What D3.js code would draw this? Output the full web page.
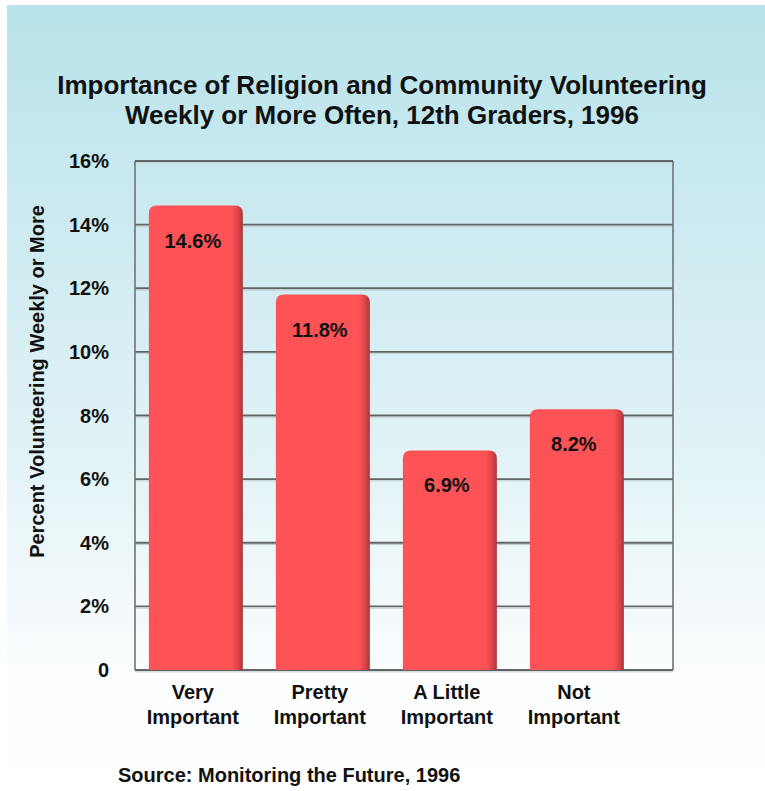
<!DOCTYPE html>
<html>
<head>
<meta charset="utf-8">
<script src="https://cdn.jsdelivr.net/npm/d3@7"></script>
<style>
  body { margin: 0; background: #fff; }
  text { font-family: "Liberation Sans", Arial, sans-serif; font-weight: bold; fill: #111; }
</style>
</head>
<body>
<svg id="chart" width="765" height="791"></svg>
<script>
// Data
var categories = [["Very", "Important"], ["Pretty", "Important"], ["A Little", "Important"], ["Not", "Important"]];
var values = [14.6, 11.8, 6.9, 8.2];
var valueLabels = ["14.6%", "11.8%", "6.9%", "8.2%"];
var tickValues = [0, 2, 4, 6, 8, 10, 12, 14, 16];
var tickLabels = ["0", "2%", "4%", "6%", "8%", "10%", "12%", "14%", "16%"];
var titleLines = ["Importance of Religion and Community Volunteering", "Weekly or More Often, 12th Graders, 1996"];
var yTitle = "Percent Volunteering Weekly or More";
var source = "Source: Monitoring the Future, 1996";

var svg = d3.select("#chart");
var plotL = 135, plotR = 673, plotT = 161, plotB = 670;

// Background gradient
var defs = svg.append("defs");
var bg = defs.append("linearGradient").attr("id", "bg").attr("x1", 0).attr("y1", 0).attr("x2", 0).attr("y2", 1);
bg.append("stop").attr("offset", "0%").attr("stop-color", "#b8e3ea");
bg.append("stop").attr("offset", "55%").attr("stop-color", "#e0f2f6");
bg.append("stop").attr("offset", "85%").attr("stop-color", "#fbfdfe");
bg.append("stop").attr("offset", "100%").attr("stop-color", "#ffffff");
var barGrad = defs.append("linearGradient").attr("id", "barGrad").attr("x1", 0).attr("y1", 0).attr("x2", 1).attr("y2", 0);
barGrad.append("stop").attr("offset", "0%").attr("stop-color", "#fd5356");
barGrad.append("stop").attr("offset", "88%").attr("stop-color", "#fd5356");
barGrad.append("stop").attr("offset", "94%").attr("stop-color", "#e2464a");
barGrad.append("stop").attr("offset", "100%").attr("stop-color", "#a8383a");

svg.append("rect").attr("x", 7).attr("y", 5).attr("width", 758).attr("height", 786).attr("fill", "url(#bg)");

// Scales
var y = d3.scaleLinear().domain([0, 16]).range([plotB, plotT]);
var x = d3.scaleBand().domain(d3.range(categories.length)).range([plotL, plotR])
          .paddingInner(0.26).paddingOuter(0.248).align(0.22);

// Gridlines
svg.selectAll(".grid")
   .data(tickValues)
   .enter()
   .append("line")
   .attr("class", "grid")
   .attr("x1", plotL).attr("x2", plotR)
   .attr("y1", function(d) { return y(d); })
   .attr("y2", function(d) { return y(d); })
   .attr("stroke", "#5f6465")
   .attr("stroke-width", 1.8);
svg.selectAll(".gridHi")
   .data(tickValues)
   .enter()
   .append("line")
   .attr("class", "gridHi")
   .attr("x1", plotL).attr("x2", plotR)
   .attr("y1", function(d) { return y(d) + 1.8; })
   .attr("y2", function(d) { return y(d) + 1.8; })
   .attr("stroke", "#c3cdcf")
   .attr("stroke-width", 1);
// Frame sides
svg.selectAll(".side")
   .data([plotL, plotR])
   .enter()
   .append("line")
   .attr("x1", function(d) { return d; }).attr("x2", function(d) { return d; })
   .attr("y1", y(16)).attr("y2", y(0))
   .attr("stroke", "#6f7475")
   .attr("stroke-width", 1.6);

// Bars (rounded top, shaded right edge)
function barPath(x0, w, yTop, yBot, r) {
  return "M" + x0 + "," + yBot +
         "V" + (yTop + r) +
         "Q" + x0 + "," + yTop + " " + (x0 + r) + "," + yTop +
         "H" + (x0 + w - r) +
         "Q" + (x0 + w) + "," + yTop + " " + (x0 + w) + "," + (yTop + r) +
         "V" + yBot + "Z";
}
svg.selectAll(".bar")
   .data(values)
   .enter()
   .append("path")
   .attr("class", "bar")
   .attr("d", function(d, i) { return barPath(x(i), x.bandwidth(), y(d), y(0), 8); })
   .attr("fill", "url(#barGrad)");

// Value labels
svg.selectAll(".valLabel")
   .data(values)
   .enter()
   .append("text")
   .attr("class", "valLabel")
   .attr("x", function(d, i) { return x(i) + x.bandwidth() / 2 - 3; })
   .attr("y", function(d) { return y(d) + 42; })
   .attr("text-anchor", "middle")
   .attr("font-size", 20)
   .text(function(d, i) { return valueLabels[i]; });

// Y tick labels
svg.selectAll(".tick")
   .data(tickValues)
   .enter()
   .append("text")
   .attr("x", 109)
   .attr("y", function(d) { return y(d) + 7; })
   .attr("text-anchor", "end")
   .attr("font-size", 20)
   .text(function(d, i) { return tickLabels[i]; });

// Category labels
var cat = svg.selectAll(".cat")
   .data(categories)
   .enter()
   .append("text")
   .attr("class", "cat")
   .attr("text-anchor", "middle")
   .attr("font-size", 20);
cat.selectAll("tspan")
   .data(function(d, i) { return d.map(function(t) { return { t: t, i: i }; }); })
   .enter()
   .append("tspan")
   .attr("x", function(d) { return x(d.i) + x.bandwidth() / 2 - 3; })
   .attr("y", function(d, j) { return y(0) + 29 + j * 25; })
   .text(function(d) { return d.t; });

// Title
svg.selectAll(".title")
   .data(titleLines)
   .enter()
   .append("text")
   .attr("x", 382)
   .attr("y", function(d, i) { return 94 + i * 30; })
   .attr("text-anchor", "middle")
   .attr("font-size", 26)
   .text(function(d) { return d; });

// Y axis title
svg.append("text")
   .attr("transform", "translate(44," + ((y(0) + y(16)) / 2 - 34) + ") rotate(-90)")
   .attr("text-anchor", "middle")
   .attr("font-size", 20)
   .text(yTitle);

// Source
svg.append("text")
   .attr("x", 118)
   .attr("y", 782)
   .attr("font-size", 20)
   .text(source);
</script>
</body>
</html>
